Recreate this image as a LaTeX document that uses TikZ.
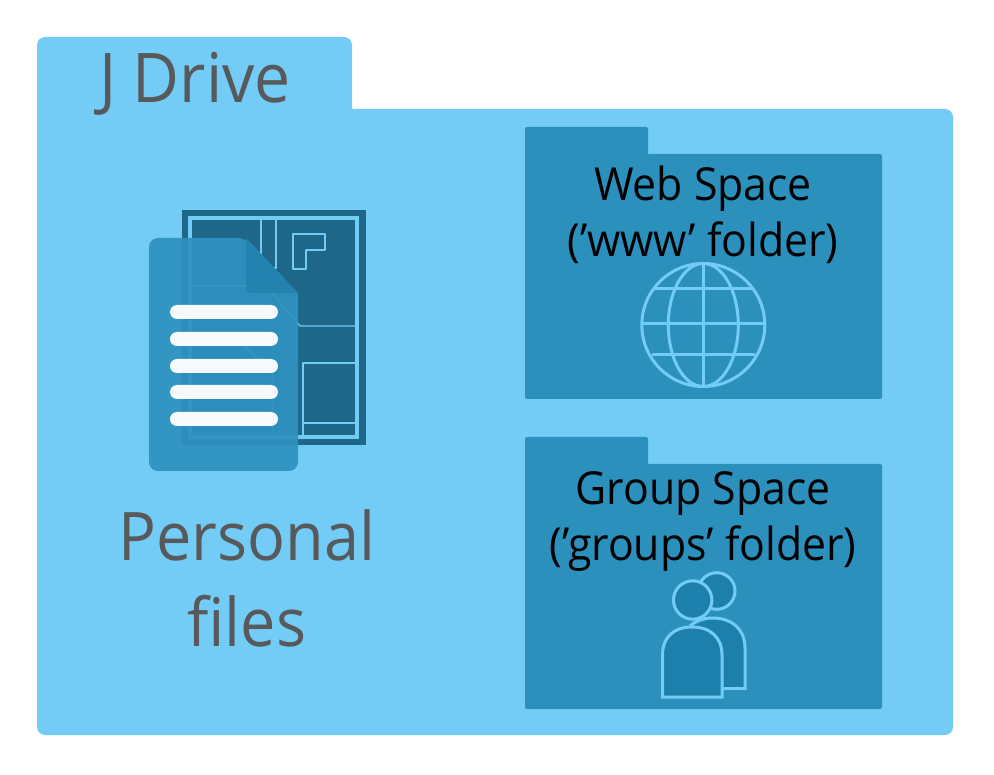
\documentclass[tikz,border=0pt]{standalone}
\usepackage{fontspec}
\setmainfont[FakeStretch=0.94]{Open Sans}
\definecolor{bgblue}{HTML}{72CCF6}
\definecolor{folderblue}{HTML}{2C90BD}
\definecolor{printblue}{HTML}{1F6788}
\definecolor{docblue}{HTML}{2F92BF}
\definecolor{foldblue}{HTML}{2281AE}
\definecolor{iconfill}{HTML}{1D7FAC}
\definecolor{graytext}{HTML}{58595B}
\tikzset{
  x=1pt,y=-1pt,
  shell/.style={fill=bgblue,draw=none},
  folder/.style={fill=folderblue,draw=none},
  plan/.style={draw=bgblue,line width=1.3pt,line join=round},
  frame/.style={draw=bgblue,line width=4pt},
  textline/.style={fill=white,draw=none,rounded corners=7pt},
  iconline/.style={draw=bgblue,line width=3pt},
  bigtext/.style={text=graytext,font=\fontsize{67}{67}\selectfont,inner sep=0pt,anchor=base},
  foldertext/.style={text=black,font=\fontsize{45.5}{45.5}\selectfont,inner sep=0pt,anchor=base},
}
\begin{document}
\begin{tikzpicture}
\useasboundingbox (0,0) rectangle (994,775);
\fill[white] (0,0) rectangle (994,775);
% J Drive shell
\fill[shell,rounded corners=8pt] (37,735) -- (37,37) -- (352,37) -- (352,60) [sharp corners] -- (352,109) [rounded corners=8pt] -- (953,109) -- (953,735) -- cycle;
\node[bigtext,font=\fontsize{68.5}{68.5}\selectfont] (jdrive) at (195,103) {J Drive};
% Blueprint
\fill[printblue] (182,210) rectangle (366,445);
\draw[frame] (190,218) rectangle (357,437);
\draw[plan] (261,220) -- (261,268) -- (276,268) -- (276,220);
\draw[plan] (293,234) -- (325,234) -- (325,250) -- (306,250) -- (306,269) -- (293,269) -- cycle;
\draw[plan] (261,268) -- (261,280) -- (300,326) -- (355,326);
\draw[plan] (303,435) -- (303,363) -- (355,363);
\draw[plan] (303,423) -- (355,423);
\draw[plan] (192,337) -- (238,340) -- (273,373) -- (273,435);
\draw[plan] (192,286) -- (253,286);
% Document
\fill[docblue,opacity=0.93,rounded corners=9pt] (149,471) -- (149,238) -- (246,238) [sharp corners] -- (298,293) [rounded corners=9pt] -- (298,471) -- cycle;
\fill[foldblue,opacity=0.9] (246,238) -- (298,293) -- (252,293) .. controls (248,293) and (246,291) .. (246,287) -- cycle;
\foreach \y in {312,339,366,392,419}
  \fill[textline,opacity=0.96] (170,\y-7) rectangle (278,\y+7);
\node[bigtext] (personal) at (247,561) {Personal};
\node[bigtext] (files) at (247,646) {files};
% Web Space folder
\fill[folder,rounded corners=2pt] (525,399) -- (525,127) -- (648,127) -- (648,140) [sharp corners] -- (648,154) [rounded corners=2pt] -- (882,154) -- (882,399) -- cycle;
\node[foldertext] (web) at (703,201) {Web Space};
\node[foldertext] (www) at (703,257) {(’www’ folder)};
\draw[iconline] (703.3,325) circle (61.5);
\draw[iconline] (703.3,325) ellipse (35 and 61.5);
\draw[iconline] (703.3,263.5) -- (703.3,386.5);
\draw[iconline] (642,323.5) -- (765,323.5);
\draw[iconline] (654.5,288.5) -- (752,288.5);
\draw[iconline] (652,355) -- (755,355);
% Group Space folder
\fill[folder,rounded corners=2pt] (525,709) -- (525,437) -- (648,437) -- (648,450) [sharp corners] -- (648,464) [rounded corners=2pt] -- (882,464) -- (882,709) -- cycle;
\node[foldertext] (group) at (703,505) {Group Space};
\node[foldertext] (groups) at (703,561) {(’groups’ folder)};
% People icon
\draw[iconline,fill=iconfill] (716.7,591) circle (18.3);
\fill[iconfill] (722,688) -- (744,688) -- (744,648) .. controls (744,630) and (733,619) .. (712,619) -- (692,626) -- cycle;
\draw[iconline] (722.5,688.5) -- (745,688.5) -- (745,648) .. controls (745,630) and (733,618) .. (712,618) .. controls (702,618) and (696,621) .. (690,626);
\draw[iconline,fill=iconfill] (692.7,600) circle (19.2);
\draw[iconline,fill=iconfill] (662.5,697) -- (722,697) -- (722,655) .. controls (722,637) and (710,627) .. (692,627) .. controls (674,627) and (662.5,637) .. (662.5,655) -- cycle;
\end{tikzpicture}
\end{document}
